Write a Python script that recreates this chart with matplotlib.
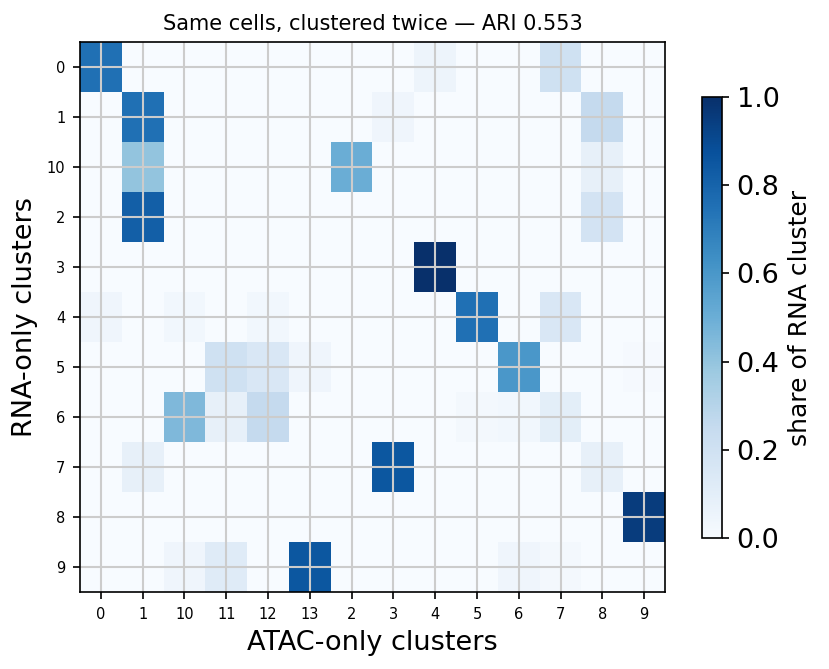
import numpy as np
import matplotlib
matplotlib.use("Agg")
import matplotlib.pyplot as plt

rna_labels = ["0", "1", "10", "2", "3", "4", "5", "6", "7", "8", "9"]
atac_labels = ["0", "1", "10", "11", "12", "13", "2", "3", "4", "5", "6", "7", "8", "9"]

# share of each RNA cluster (row) falling into each ATAC cluster (column)
share = np.array([
    [0.75, 0, 0, 0, 0, 0, 0, 0, 0.05, 0, 0, 0.20, 0, 0],
    [0, 0.75, 0, 0, 0, 0, 0, 0.04, 0, 0, 0, 0, 0.25, 0],
    [0, 0.40, 0, 0, 0, 0, 0.50, 0, 0, 0, 0, 0, 0.08, 0],
    [0, 0.82, 0, 0, 0, 0, 0, 0, 0, 0, 0, 0, 0.18, 0],
    [0, 0, 0, 0, 0, 0, 0, 0, 1.00, 0, 0, 0, 0, 0],
    [0.04, 0, 0.03, 0, 0.03, 0, 0, 0, 0, 0.75, 0, 0.15, 0, 0],
    [0, 0, 0, 0.20, 0.15, 0.04, 0, 0, 0, 0, 0.60, 0, 0, 0.01],
    [0, 0, 0.45, 0.08, 0.25, 0, 0, 0, 0, 0.02, 0.03, 0.10, 0, 0],
    [0, 0.08, 0, 0, 0, 0, 0, 0.85, 0, 0, 0, 0, 0.08, 0],
    [0, 0, 0, 0, 0, 0, 0, 0, 0, 0, 0, 0, 0, 0.95],
    [0, 0, 0.04, 0.12, 0, 0.85, 0, 0, 0, 0, 0.04, 0.02, 0, 0],
])

fig = plt.figure(figsize=(829 / 150, 669 / 150), dpi=150)
ax = fig.add_axes([80 / 829, 1 - 592 / 669, 585 / 829, 550 / 669])
cax = fig.add_axes([702 / 829, 1 - 538 / 669, 20 / 829, 441 / 669])

im = ax.imshow(share, cmap="Blues", vmin=0, vmax=1, aspect="auto")
ax.set_xticks(range(len(atac_labels)))
ax.set_xticklabels(atac_labels, fontsize=7)
ax.set_yticks(range(len(rna_labels)))
ax.set_yticklabels(rna_labels, fontsize=7)
ax.grid(True, color="#cccccc", linewidth=1)
ax.set_xlabel("ATAC-only clusters", fontsize=13)
ax.set_ylabel("RNA-only clusters", fontsize=13)
ax.set_title("Same cells, clustered twice — ARI 0.553", fontsize=10)

cb = fig.colorbar(im, cax=cax)
cb.set_label("share of RNA cluster", fontsize=12)
cb.ax.tick_params(labelsize=13)

fig.savefig("out.png", dpi=150)
